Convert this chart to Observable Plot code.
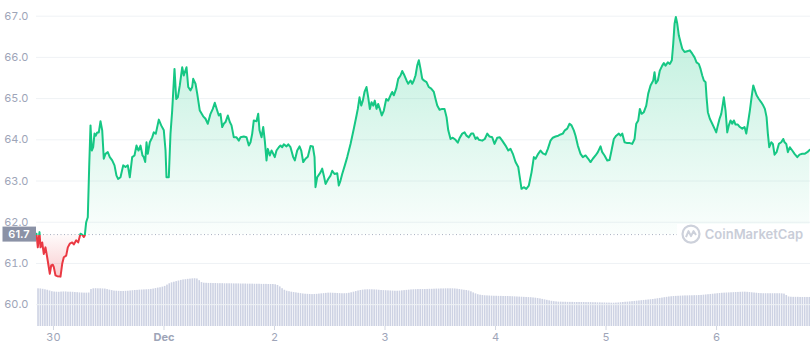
<!DOCTYPE html>
<html><head><meta charset="utf-8">
<script src="https://cdn.jsdelivr.net/npm/d3@7"></script>
<script src="https://cdn.jsdelivr.net/npm/@observablehq/plot@0.6"></script>
<style>
html,body{margin:0;padding:0;background:#fff;}
#chart{position:relative;width:810px;height:349px;overflow:hidden;font-family:Inter,"Noto Sans",sans-serif;}
#chart svg{position:absolute;left:0;top:0;}
</style></head><body><div id="chart"></div>
<script>
// ---- data ----
const BASE = Date.UTC(2021, 10, 30); // 30 Nov 00:00 UTC
const xStartHour = -3.69, xEndHour = 164.4;
const referencePrice = 61.7;
const yDomain = [59.47, 67.38];
const yTicks = [60, 61, 62, 63, 64, 65, 66, 67];
const xTickDates = ["2021-11-30","2021-12-01","2021-12-02","2021-12-03","2021-12-04","2021-12-05","2021-12-06"];
const xTickLabels = ["30","Dec","2","3","4","5","6"];

// hours since 30 Nov 00:00
const priceHours = [
-3.69,-3.41,-3.04,-2.82,-2.45,-2.11,-1.74,-1.37,-0.80,-0.50,
-0.15,0.07,0.43,0.80,1.52,1.89,2.24,2.76,3.11,3.54,
4.06,4.41,4.93,5.36,5.86,6.23,6.58,6.80,7.10,7.45,
7.75,8.04,8.32,8.62,8.91,9.19,9.49,9.84,10.21,10.58,
10.92,11.29,11.79,12.23,12.75,13.25,13.68,14.05,14.55,15.14,
15.64,16.14,16.57,17.09,17.59,18.03,18.46,18.90,19.33,19.61,
19.92,20.20,20.48,20.92,21.44,21.78,22.22,22.87,23.39,23.96,
24.33,24.54,25.04,25.41,25.78,26.28,26.65,27.00,27.43,27.95,
28.30,28.89,29.26,29.76,30.12,30.34,30.84,31.21,31.77,32.51,
33.01,33.51,34.10,34.60,35.03,35.55,35.90,36.27,36.64,36.99,
37.36,37.86,38.29,38.66,39.16,39.75,40.25,40.62,41.33,41.92,
42.42,42.79,43.16,43.50,44.09,44.46,44.74,45.18,45.55,45.89,
46.26,46.54,46.98,47.35,47.72,48.06,48.43,48.93,49.30,49.67,
50.02,50.61,50.98,51.47,52.06,52.41,52.93,53.43,53.80,54.23,
54.73,55.23,55.82,56.32,56.69,56.90,57.27,57.99,58.36,58.71,
59.08,59.66,60.16,60.53,61.03,61.62,61.96,62.33,62.70,63.27,
63.79,64.51,65.22,65.81,66.09,66.46,66.83,67.18,67.55,67.98,
68.35,68.70,69.07,69.44,69.78,70.15,70.52,70.87,71.30,71.74,
72.26,72.69,73.19,73.56,73.91,74.43,74.87,75.37,75.73,76.23,
76.67,77.04,77.54,77.91,78.25,78.62,78.99,79.34,79.71,80.08,
80.43,81.01,81.51,82.03,82.60,82.97,83.34,83.84,84.42,84.92,
85.36,85.73,86.23,86.72,87.31,87.81,88.24,88.77,89.27,89.70,
90.20,90.72,91.16,91.65,92.02,92.37,93.11,93.67,94.20,94.70,
95.28,95.78,96.37,96.93,97.45,98.17,98.76,99.26,99.76,100.34,
100.93,101.21,101.64,102.14,102.67,103.23,103.82,104.32,104.69,105.27,
105.77,106.27,106.86,107.36,107.94,108.44,109.03,109.62,110.12,110.61,
111.05,111.57,112.07,112.50,113.00,113.37,113.87,114.46,114.96,115.55,
116.13,116.63,117.13,117.72,118.22,118.80,119.17,119.67,120.26,120.76,
121.19,121.69,122.21,122.78,123.15,123.52,124.02,124.60,125.17,125.69,
126.19,126.56,126.99,127.34,127.71,128.21,128.73,129.16,129.66,130.25,
130.53,130.81,131.25,131.68,132.20,132.55,132.92,133.42,133.85,134.29,
134.59,134.88,135.16,135.46,135.81,136.18,136.55,137.05,137.63,138.20,
138.72,139.22,139.65,140.15,140.52,140.89,141.24,141.61,141.83,142.11,
142.54,143.06,143.56,143.93,144.28,144.65,145.02,145.37,145.58,145.95,
146.32,146.67,147.04,147.41,147.76,148.12,148.62,149.06,149.58,150.08,
150.45,150.80,151.23,151.60,151.97,152.32,152.69,153.18,153.71,154.14,
154.49,154.86,155.14,155.44,155.88,156.23,156.59,157.03,157.53,158.05,
158.48,158.77,159.14,159.48,159.92,160.44,160.94,161.53,162.02,162.61,
163.11,163.70,164.26
];
const prices = [
61.72,61.39,61.76,61.39,61.51,61.23,61.39,61.15,60.75,60.95,
60.97,60.91,60.71,60.69,60.68,60.99,61.15,61.19,61.39,61.48,
61.51,61.46,61.56,61.51,61.72,61.70,61.64,61.68,62.00,62.12,
63.34,64.35,63.74,63.82,64.15,64.10,64.18,64.18,64.45,64.23,
63.54,63.66,63.70,63.58,63.50,63.38,63.13,63.05,63.09,63.38,
63.34,63.38,63.09,63.58,63.62,63.86,63.74,63.86,63.62,63.58,
63.46,63.94,63.66,63.94,64.06,64.18,64.15,64.49,64.35,64.23,
63.74,63.09,63.09,64.15,64.71,65.72,64.99,65.03,65.32,65.76,
65.56,65.76,65.28,65.20,65.28,65.48,65.36,65.12,64.71,64.57,
64.51,64.39,64.63,64.75,64.90,64.71,64.59,64.63,64.31,64.39,
64.43,64.59,64.43,64.35,64.06,64.06,63.98,64.06,64.08,64.06,
63.86,63.94,64.15,64.47,64.45,64.63,64.23,64.06,64.31,63.98,
63.50,63.78,63.62,63.74,63.66,63.58,63.74,63.82,63.86,63.82,
63.89,63.84,63.89,63.82,63.58,63.50,63.74,63.84,63.74,63.46,
63.54,63.59,63.85,63.84,63.58,62.85,63.09,63.21,63.30,63.13,
62.93,63.05,63.13,63.25,63.17,63.19,62.89,63.01,63.17,63.38,
63.58,63.90,64.27,64.59,64.75,65.03,64.83,64.95,65.16,65.28,
65.03,64.75,64.91,64.83,64.95,64.75,64.87,64.75,64.59,64.71,
64.99,64.95,65.08,65.16,65.08,65.24,65.48,65.56,65.67,65.56,
65.44,65.36,65.44,65.36,65.44,65.56,65.80,65.93,65.72,65.48,
65.44,65.40,65.28,65.24,65.16,64.99,64.83,64.73,64.75,64.75,
64.55,64.23,64.02,64.05,64.00,63.93,64.05,64.15,64.18,64.10,
64.06,64.15,64.15,64.02,64.06,64.00,63.98,64.02,64.15,64.08,
64.06,63.90,64.05,64.06,63.98,63.86,63.74,63.78,63.66,63.46,
63.34,63.13,62.81,62.85,62.81,62.89,63.21,63.58,63.54,63.66,
63.74,63.67,63.64,63.78,63.98,64.05,64.08,64.10,64.13,64.15,
64.23,64.27,64.39,64.35,64.23,64.10,63.86,63.66,63.58,63.62,
63.54,63.46,63.54,63.62,63.70,63.84,63.70,63.62,63.50,63.51,
63.74,64.02,64.10,64.15,64.10,64.15,63.94,63.92,63.92,63.90,
64.02,64.39,64.47,64.75,64.63,64.67,64.83,65.12,65.32,65.44,
65.64,65.37,65.44,65.68,65.80,65.86,65.80,65.88,65.84,65.93,
66.33,66.82,66.98,66.82,66.53,66.37,66.21,66.13,66.15,66.17,
66.09,66.00,65.88,65.84,65.72,65.56,65.44,65.40,65.03,64.67,
64.51,64.39,64.27,64.18,64.35,64.51,64.63,64.87,65.03,64.71,
64.18,64.35,64.47,64.39,64.47,64.37,64.37,64.31,64.27,64.31,
64.15,64.39,64.71,65.03,65.32,65.20,65.08,64.99,64.91,64.83,
64.75,64.55,64.15,63.82,63.94,63.90,63.64,63.70,63.90,63.94,
64.02,63.94,63.90,63.70,63.82,63.74,63.66,63.58,63.64,63.66,
63.66,63.70,63.76
];

// volume bars, one per 30 min starting at -3.5 h (axis hidden, estimated units)
const volumeStartHour = -3.5, volumeStepHours = 0.5;
const volumes = [
31.4,31.3,31.0,30.6,30.2,29.6,29.0,28.7,28.6,28.5,28.7,28.8,28.8,28.6,28.6,28.5,28.3,28.2,28.0,27.9,27.8,27.8,27.9,30.8,
31.4,31.5,31.4,31.4,31.3,31.2,30.8,30.3,29.9,29.5,29.4,29.3,29.2,29.2,29.3,29.4,29.6,29.8,30.0,30.1,30.3,30.4,30.5,30.6,
30.7,30.9,31.2,31.6,32.0,32.3,32.8,33.4,34.5,35.6,36.4,36.9,37.4,37.9,38.4,38.8,39.0,39.3,39.5,39.7,39.8,39.6,38.2,36.6,
36.1,36.0,35.9,35.9,35.8,35.8,35.7,35.7,35.7,35.6,35.6,35.6,35.6,35.5,35.5,35.5,35.4,35.4,35.4,35.3,35.3,35.3,35.2,35.2,
35.2,35.1,35.1,35.1,35.0,35.0,35.0,34.8,34.2,33.0,31.5,30.2,29.4,29.0,28.6,28.3,28.0,27.7,27.4,27.1,26.9,26.8,26.7,26.6,
26.7,26.8,27.0,27.2,27.4,27.6,27.8,27.8,27.7,27.6,27.5,27.4,27.3,27.3,27.4,27.7,28.1,28.6,29.1,29.6,30.0,30.3,30.5,30.6,
30.6,30.6,30.5,30.4,30.2,30.0,29.9,29.8,29.7,29.6,29.5,29.4,29.4,29.5,29.7,29.9,30.1,30.3,30.5,30.6,30.7,30.8,30.8,30.8,
30.8,30.9,31.0,31.0,31.1,31.2,31.2,31.3,31.3,31.4,31.4,31.4,31.4,31.3,31.1,30.8,30.5,30.2,30.0,29.6,28.9,28.0,27.2,26.5,
26.1,25.8,25.6,25.5,25.4,25.3,25.2,25.2,25.1,25.1,25.0,25.0,25.0,24.9,24.8,24.7,24.6,24.5,24.4,24.3,24.2,24.1,24.0,23.8,
23.6,23.3,23.0,22.6,22.2,21.8,21.4,21.0,20.7,20.5,20.3,20.3,20.2,20.2,20.1,20.1,20.1,20.0,20.0,20.0,20.0,20.0,19.9,19.9,
19.9,19.8,19.8,19.7,19.7,19.6,19.6,19.5,19.5,19.4,19.4,19.5,19.6,19.8,20.0,20.2,20.3,20.5,20.7,20.9,21.1,21.3,21.5,21.7,
21.9,22.1,22.3,22.5,22.8,23.1,23.4,23.7,24.0,24.3,24.6,24.8,25.0,25.1,25.2,25.3,25.4,25.5,25.5,25.6,25.6,25.7,25.7,25.8,
25.9,26.1,26.3,26.5,26.7,26.9,27.1,27.3,27.5,27.7,27.8,27.9,28.0,28.1,28.2,28.3,28.4,28.5,28.6,28.6,28.5,28.3,28.1,27.9,
27.7,27.5,27.4,27.3,27.3,27.3,27.3,27.3,27.3,27.3,27.3,27.2,27.0,25.8,24.6,24.4,24.3,24.3,24.3,24.2,24.2,24.2,24.2,24.2
];
const volumeMax = 40;

// ---- build ----
const W = 810, H = 349, mTop = 0, mRight = 0, mBottom = 23, mLeft = 36;
const volumeBandPx = 48;
const toDate = h => new Date(BASE + h * 3600e3);
const xDomain = [toDate(xStartHour), toDate(xEndHour)];
const n = Math.min(priceHours.length, prices.length);
const priceData = d3.range(n).map(i => ({date: toDate(priceHours[i]), price: prices[i]}));
const volData = volumes.map((v, i) => ({
  start: toDate(volumeStartHour + i * volumeStepHours),
  end: toDate(volumeStartHour + (i + 1) * volumeStepHours),
  volume: v
}));
const labelByTime = new Map(xTickDates.map((d, i) => [+new Date(d), xTickLabels[i]]));

const GREEN = "#16c784", RED = "#ea3943";

const volPlot = Plot.plot({
  width: W, height: H, marginTop: mTop, marginRight: mRight, marginBottom: mBottom, marginLeft: mLeft,
  style: {background: "white"},
  x: {type: "utc", domain: xDomain, axis: null},
  y: {domain: [0, volumeMax], range: [H - mBottom, H - mBottom - volumeBandPx], axis: null},
  marks: [
    Plot.rectY(volData, {x1: "start", x2: "end", y: "volume", fill: "#cdd2e3", insetLeft: 0.35, insetRight: 0.35})
  ]
});

const pricePlot = Plot.plot({
  width: W, height: H, marginTop: mTop, marginRight: mRight, marginBottom: mBottom, marginLeft: mLeft,
  style: {background: "transparent", color: "#9ea5b8", fontFamily: "Inter, 'Noto Sans', sans-serif", fontSize: "11px", overflow: "visible"},
  x: {type: "utc", domain: xDomain, ticks: xTickDates.map(d => new Date(d)), tickFormat: d => labelByTime.get(+d) ?? "", tickSize: 4, tickPadding: 3, label: null},
  y: {domain: yDomain, ticks: yTicks, tickFormat: d => d.toFixed(1), tickSize: 0, tickPadding: 8, label: null},
  marks: [
    Plot.ruleY(yTicks, {stroke: "#eff2f5"}),
    Plot.areaY(priceData, {x: "date", y1: referencePrice, y2: "price", fill: "url(#cmc-area-grad)"}),
    Plot.ruleY([referencePrice], {stroke: "#a9b0c0", strokeDasharray: "1,2.5"}),
    Plot.line(priceData, {x: "date", y: "price", stroke: "url(#cmc-line-grad)", strokeWidth: 2})
  ]
});

const root = document.getElementById("chart");
root.appendChild(volPlot);
root.appendChild(pricePlot);

// ---- gradients / annotations driven by the y scale ----
let yScale;
const sc = pricePlot.scale && pricePlot.scale("y");
if (sc && typeof sc.apply === "function") yScale = v => sc.apply(v);
else { const s = d3.scaleLinear(yDomain, [H - mBottom, mTop]); yScale = v => s(v); }

const yb = yScale(referencePrice);
const yTop = yScale(yDomain[1]);
const yBot = yScale(60.55);
const svg = d3.select(pricePlot);
const defs = svg.insert("defs", ":first-child");
const off = (yb - yTop) / (yBot - yTop);

const ag = defs.append("linearGradient").attr("id", "cmc-area-grad")
  .attr("gradientUnits", "userSpaceOnUse").attr("x1", 0).attr("x2", 0).attr("y1", yTop).attr("y2", yBot);
[[0, GREEN, 0.30], [off, GREEN, 0.02], [off, RED, 0.02], [1, RED, 0.28]].forEach(([o, c, a]) =>
  ag.append("stop").attr("offset", o).attr("stop-color", c).attr("stop-opacity", a));

const lg = defs.append("linearGradient").attr("id", "cmc-line-grad")
  .attr("gradientUnits", "userSpaceOnUse").attr("x1", 0).attr("x2", 0).attr("y1", yTop).attr("y2", yBot);
[[0, GREEN], [off, GREEN], [off, RED], [1, RED]].forEach(([o, c]) =>
  lg.append("stop").attr("offset", o).attr("stop-color", c));

// x axis styling: light tick marks, bold month label
svg.selectAll('[aria-label^="x-axis"] line, [aria-label^="x-axis"] path').attr("stroke", "#d3d8e2");
svg.selectAll('[aria-label^="x-axis"] text').each(function () {
  if (this.textContent === "Dec") d3.select(this).attr("font-weight", 700);
});

// watermark
const wm = svg.append("g").attr("pointer-events", "none");
wm.append("rect").attr("x", 677).attr("y", yb - 10).attr("width", 133).attr("height", 20).attr("fill", "white");
wm.append("circle").attr("cx", 691).attr("cy", yb).attr("r", 8.5).attr("fill", "none").attr("stroke", "#cdd1db").attr("stroke-width", 2.2);
wm.append("path").attr("d", `M${686},${yb + 3} L${688.5},${yb - 3} L${691},${yb + 2} L${693.5},${yb - 3} L${696},${yb + 1}`)
  .attr("fill", "none").attr("stroke", "#cdd1db").attr("stroke-width", 2).attr("stroke-linejoin", "round");
wm.append("text").attr("x", 803).attr("y", yb).attr("dy", "0.35em").attr("text-anchor", "end")
  .attr("font-size", 13).attr("font-weight", 600).attr("fill", "#c9cdd8").text("CoinMarketCap");

// current-price tag on the left
const tag = svg.append("g");
tag.append("rect").attr("x", 2.5).attr("y", yb - 7.5).attr("width", 33.5).attr("height", 15).attr("fill", "#8b92a6");
tag.append("text").attr("x", 19).attr("y", yb).attr("dy", "0.35em").attr("text-anchor", "middle")
  .attr("fill", "#ffffff").attr("font-size", 11).attr("font-weight", 600).text(referencePrice.toFixed(1));
</script>
</body></html>
